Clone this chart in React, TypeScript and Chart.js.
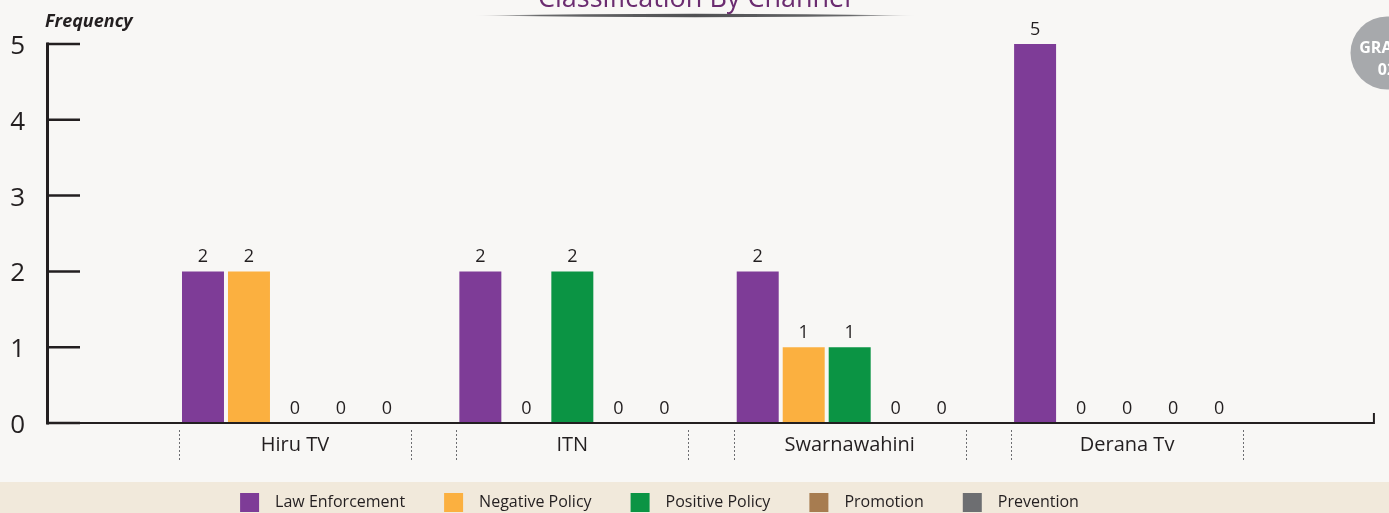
import React, { useEffect, useRef } from 'react';
import { Chart, registerables } from 'chart.js';

Chart.register(...registerables);

// ---------- data ----------
const CATEGORIES = ['Hiru TV', 'ITN', 'Swarnawahini', 'Derana Tv'];
const SERIES_NAMES = ['Law Enforcement', 'Negative Policy', 'Positive Policy', 'Promotion', 'Prevention'];
const LAW_ENFORCEMENT = [2, 2, 2, 5];
const NEGATIVE_POLICY = [2, 0, 1, 0];
const POSITIVE_POLICY = [0, 2, 1, 0];
const PROMOTION = [0, 0, 0, 0];
const PREVENTION = [0, 0, 0, 0];
const Y_TICKS = [0, 1, 2, 3, 4, 5];
const TITLE = 'Classification By Channel';
const Y_TITLE = 'Frequency';
const BADGE_LINES = ['GRAPH', '02'];

// ---------- styles ----------
const SERIES_COLORS = ['#7e3c97', '#fbb040', '#0b9444', '#a77c50', '#6d6e71'];
const FONT = '"Open Sans", "Noto Sans", sans-serif';
const INK = '#231f20';
const BG = '#f8f7f5';
const BAND = '#f1e9db';
const X_MIN = 0.106;
const X_MAX = 4.692;
const AXIS_END = 4.89;
const CAT_PCT = 0.829;
const BAR_PCT = 0.913;

const SERIES_VALUES = [LAW_ENFORCEMENT, NEGATIVE_POLICY, POSITIVE_POLICY, PROMOTION, PREVENTION];

const decorPlugin = {
  id: 'decor',
  beforeDraw(chart: any) {
    const { ctx, width, height } = chart;
    ctx.save();
    ctx.fillStyle = BG;
    ctx.fillRect(0, 0, width, height);
    ctx.fillStyle = BAND;
    ctx.fillRect(0, 482, width, height - 482);
    ctx.restore();
  },
  afterDatasetsDraw(chart: any) {
    const { ctx, chartArea } = chart;
    const xs = chart.scales.x;
    const ys = chart.scales.y;
    const left = chartArea.left;
    const y0 = ys.getPixelForValue(0);
    const yTop = ys.getPixelForValue(Y_TICKS[Y_TICKS.length - 1]);
    ctx.save();
    ctx.strokeStyle = INK;
    // y axis
    ctx.lineWidth = 3;
    ctx.beginPath();
    ctx.moveTo(left + 0.5, yTop - 1.5);
    ctx.lineTo(left + 0.5, y0 + 1.5);
    ctx.stroke();
    // inward ticks
    ctx.lineWidth = 2.5;
    Y_TICKS.forEach((v) => {
      const py = ys.getPixelForValue(v);
      ctx.beginPath();
      ctx.moveTo(left, py);
      ctx.lineTo(left + 33, py);
      ctx.stroke();
    });
    // x axis
    const xEnd = xs.getPixelForValue(AXIS_END);
    ctx.lineWidth = 2.2;
    ctx.beginPath();
    ctx.moveTo(left, y0);
    ctx.lineTo(xEnd, y0);
    ctx.stroke();
    ctx.lineWidth = 2;
    ctx.beginPath();
    ctx.moveTo(xEnd, y0 + 1);
    ctx.lineTo(xEnd, y0 - 10);
    ctx.stroke();
    // dotted group separators
    const unit = xs.getPixelForValue(2) - xs.getPixelForValue(1);
    const half = (unit * CAT_PCT) / 2 + 1;
    ctx.strokeStyle = '#6d6e71';
    ctx.lineWidth = 1;
    ctx.setLineDash([2, 2]);
    CATEGORIES.forEach((_, i) => {
      const c = xs.getPixelForValue(i + 1);
      [c - half, c + half].forEach((px) => {
        ctx.beginPath();
        ctx.moveTo(Math.round(px) + 0.5, 430);
        ctx.lineTo(Math.round(px) + 0.5, 460);
        ctx.stroke();
      });
    });
    ctx.setLineDash([]);
    // value labels
    ctx.fillStyle = INK;
    ctx.font = `18px ${FONT}`;
    ctx.textAlign = 'center';
    ctx.textBaseline = 'alphabetic';
    chart.data.datasets.forEach((ds: any, di: number) => {
      const meta = chart.getDatasetMeta(di);
      meta.data.forEach((el: any, i: number) => {
        const v = ds.data[i].y;
        ctx.fillText(String(v), el.x, el.y - 9);
      });
    });
    ctx.restore();
  },
  afterDraw(chart: any) {
    const { ctx, width } = chart;
    ctx.save();
    // title (cut off at the top)
    ctx.fillStyle = '#6b2c70';
    ctx.font = `27px ${FONT}`;
    ctx.textAlign = 'center';
    ctx.textBaseline = 'alphabetic';
    ctx.fillText(TITLE, width / 2, 7);
    // title underline
    const g = ctx.createLinearGradient(473, 0, 917, 0);
    g.addColorStop(0, 'rgba(88,89,91,0)');
    g.addColorStop(0.15, 'rgba(88,89,91,0.9)');
    g.addColorStop(0.5, 'rgba(80,81,83,1)');
    g.addColorStop(0.85, 'rgba(88,89,91,0.9)');
    g.addColorStop(1, 'rgba(88,89,91,0)');
    ctx.fillStyle = g;
    ctx.beginPath();
    ctx.moveTo(473, 15.5);
    ctx.quadraticCurveTo(695, 12.2, 917, 15.5);
    ctx.quadraticCurveTo(695, 18.8, 473, 15.5);
    ctx.closePath();
    ctx.fill();
    // y axis title
    ctx.fillStyle = INK;
    ctx.font = `italic bold 18px ${FONT}`;
    ctx.textAlign = 'left';
    ctx.fillText(Y_TITLE, 45, 27);
    // badge
    ctx.fillStyle = '#a7a9ac';
    ctx.beginPath();
    ctx.arc(1387, 53, 36.5, 0, Math.PI * 2);
    ctx.fill();
    ctx.fillStyle = '#ffffff';
    ctx.font = `bold 16px ${FONT}`;
    ctx.textAlign = 'center';
    ctx.fillText(BADGE_LINES[0], 1387, 53);
    ctx.fillText(BADGE_LINES[1], 1387, 75);
    ctx.restore();
  },
};

export default function App() {
  const ref = useRef<HTMLCanvasElement | null>(null);

  useEffect(() => {
    document.body.style.margin = '0';
    document.body.style.background = BG;
    const canvas = ref.current;
    if (!canvas) return;
    const chart = new Chart(canvas, {
      type: 'bar',
      data: {
        datasets: SERIES_NAMES.map((name, si) => ({
          label: name,
          data: SERIES_VALUES[si].map((v, i) => ({ x: i + 1, y: v })),
          backgroundColor: SERIES_COLORS[si],
          borderWidth: 0,
          categoryPercentage: CAT_PCT,
          barPercentage: BAR_PCT,
        })),
      },
      options: {
        responsive: false,
        animation: false,
        events: [],
        layout: { padding: { top: 44, right: 70, bottom: -9, left: 0 } },
        plugins: {
          tooltip: { enabled: false },
          title: { display: false },
          legend: {
            display: true,
            position: 'bottom',
            align: 'center',
            labels: {
              boxWidth: 19,
              boxHeight: 19,
              padding: 39,
              color: INK,
              font: { family: FONT, size: 16 },
              generateLabels: (chart: any) => {
                const items = Chart.defaults.plugins.legend.labels.generateLabels(chart);
                return items.map((it: any) => ({ ...it, text: '\u2002' + it.text }));
              },
            },
          },
        },
        scales: {
          x: {
            type: 'linear',
            min: X_MIN,
            max: X_MAX,
            offset: false,
            grid: { display: false, drawTicks: false },
            border: { display: false },
            afterBuildTicks: (scale: any) => {
              scale.ticks = CATEGORIES.map((_, i) => ({ value: i + 1 }));
            },
            afterFit: (scale: any) => {
              scale.height = 31;
            },
            ticks: {
              autoSkip: false,
              maxRotation: 0,
              minRotation: 0,
              padding: 10,
              color: INK,
              font: { family: FONT, size: 20 },
              callback: (v: any) => CATEGORIES[Math.round(Number(v)) - 1] ?? '',
            },
          },
          y: {
            type: 'linear',
            min: Y_TICKS[0],
            max: Y_TICKS[Y_TICKS.length - 1],
            grid: { display: false, drawTicks: false },
            border: { display: false },
            afterFit: (scale: any) => {
              scale.width = 47;
            },
            afterBuildTicks: (scale: any) => {
              scale.ticks = Y_TICKS.map((v) => ({ value: v }));
            },
            ticks: {
              padding: 22,
              labelOffset: 2.5,
              color: INK,
              font: { family: FONT, size: 26 },
            },
          },
        },
      },
      plugins: [decorPlugin],
    } as any);
    return () => chart.destroy();
  }, []);

  return (
    <div style={{ width: 1389, height: 513, overflow: 'hidden' }}>
      <canvas ref={ref} width={1389} height={513} style={{ display: 'block' }} />
    </div>
  );
}
